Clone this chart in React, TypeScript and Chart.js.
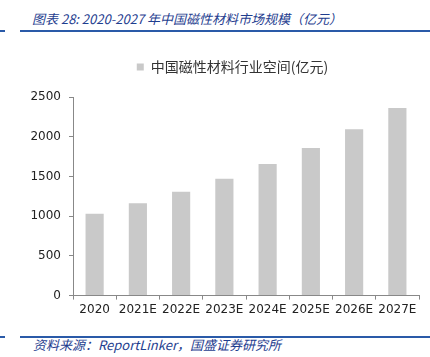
import React, { useEffect, useRef } from "react";
import { Chart, registerables } from "chart.js";

Chart.register(...registerables);

const categories = ["2020", "2021E", "2022E", "2023E", "2024E", "2025E", "2026E", "2027E"];
const seriesName = "中国磁性材料行业空间(亿元)";
const values = [1030, 1164, 1307, 1470, 1658, 1859, 2094, 2362];
const yTicks = [0, 500, 1000, 1500, 2000, 2500];

const titleText = "图表 28:  2020-2027 年中国磁性材料市场规模（亿元）";
const sourceText = "资料来源：ReportLinker，国盛证券研究所";

const BLUE_TEXT = "#1f3e8f";
const BLUE_LINE = "#2a5aa8";

const legendSpacing = {
  id: "legendSpacing",
  afterInit(chart: any) {
    const lg = chart.legend;
    if (!lg) return;
    const orig = lg.fit;
    lg.fit = function () {
      orig.call(this);
      this.height += 13;
    };
  },
  afterLayout(chart: any) {
    const lg = chart.legend;
    if (!lg) return;
    lg.left += 23;
    lg.right += 23;
  },
};

export default function App() {
  const ref = useRef<HTMLCanvasElement | null>(null);
  useEffect(() => {
    if (!ref.current) return;
    const chart = new Chart(ref.current, {
      type: "bar",
      data: {
        labels: categories,
        datasets: [
          {
            label: seriesName,
            data: values,
            backgroundColor: "#c9c9c9",
            borderWidth: 0,
            barPercentage: 0.84,
            categoryPercentage: 0.5,
          },
        ],
      },
      plugins: [legendSpacing],
      options: {
        animation: false,
        responsive: false,
        maintainAspectRatio: false,
        layout: { padding: { left: 0, right: 11, top: 10, bottom: 5 } },
        plugins: {
          tooltip: { enabled: false },
          legend: {
            display: true,
            position: "top",
            labels: {
              boxWidth: 7,
              boxHeight: 7,
              color: "#333",
              font: { family: "'Noto Sans CJK SC', sans-serif", size: 14 },
              padding: 10,
            },
          },
        },
        scales: {
          x: {
            offset: true,
            grid: {
              display: true,
              offset: true,
              drawOnChartArea: false,
              drawTicks: true,
              tickLength: 4,
              color: "#888",
            },
            border: { display: true, color: "#888", width: 1 },
            ticks: {
              color: "#222",
              font: { family: "'DejaVu Sans', Verdana, sans-serif", size: 12 },
              padding: 3,
              maxRotation: 0,
              autoSkip: false,
            },
          },
          y: {
            min: 0,
            max: 2500,
            afterBuildTicks: (scale: any) => {
              scale.ticks = yTicks.map((v) => ({ value: v }));
            },
            afterFit: (scale: any) => {
              scale.width = 73;
            },
            grid: {
              display: true,
              drawOnChartArea: false,
              drawTicks: true,
              tickLength: 4,
              color: "#888",
            },
            border: { display: true, color: "#888", width: 1 },
            ticks: {
              color: "#222",
              font: { family: "'DejaVu Sans', Verdana, sans-serif", size: 12 },
              padding: 8,
              callback: (v: any) => String(v),
            },
          },
        },
      },
    });
    return () => chart.destroy();
  }, []);

  return (
    <div
      style={{
        position: "fixed",
        left: 0,
        top: 0,
        width: 430,
        height: 357,
        background: "#fff",
        overflow: "hidden",
      }}
    >
      <div
        style={{
          position: "absolute",
          left: 32,
          top: 10,
          fontFamily: "'Noto Sans CJK SC', sans-serif",
          fontStyle: "italic",
          fontSize: 13,
          lineHeight: "18px",
          color: BLUE_TEXT,
          whiteSpace: "nowrap",
        }}
      >
        {titleText}
      </div>
      <div style={{ position: "absolute", left: 0, top: 30, width: 5, height: 2, background: BLUE_LINE }} />
      <div style={{ position: "absolute", left: 20, top: 30, width: 410, height: 2, background: BLUE_LINE }} />
      <canvas
        ref={ref}
        width={430}
        height={285}
        style={{ position: "absolute", left: 0, top: 40, width: 430, height: 285 }}
      />
      <div style={{ position: "absolute", left: 0, top: 336, width: 5, height: 2, background: BLUE_LINE }} />
      <div style={{ position: "absolute", left: 20, top: 336, width: 410, height: 2, background: BLUE_LINE }} />
      <div
        style={{
          position: "absolute",
          left: 33,
          top: 337,
          fontFamily: "'Noto Sans CJK SC', sans-serif",
          fontStyle: "italic",
          fontSize: 13,
          lineHeight: "16px",
          color: BLUE_TEXT,
          whiteSpace: "nowrap",
        }}
      >
        {sourceText}
      </div>
    </div>
  );
}
